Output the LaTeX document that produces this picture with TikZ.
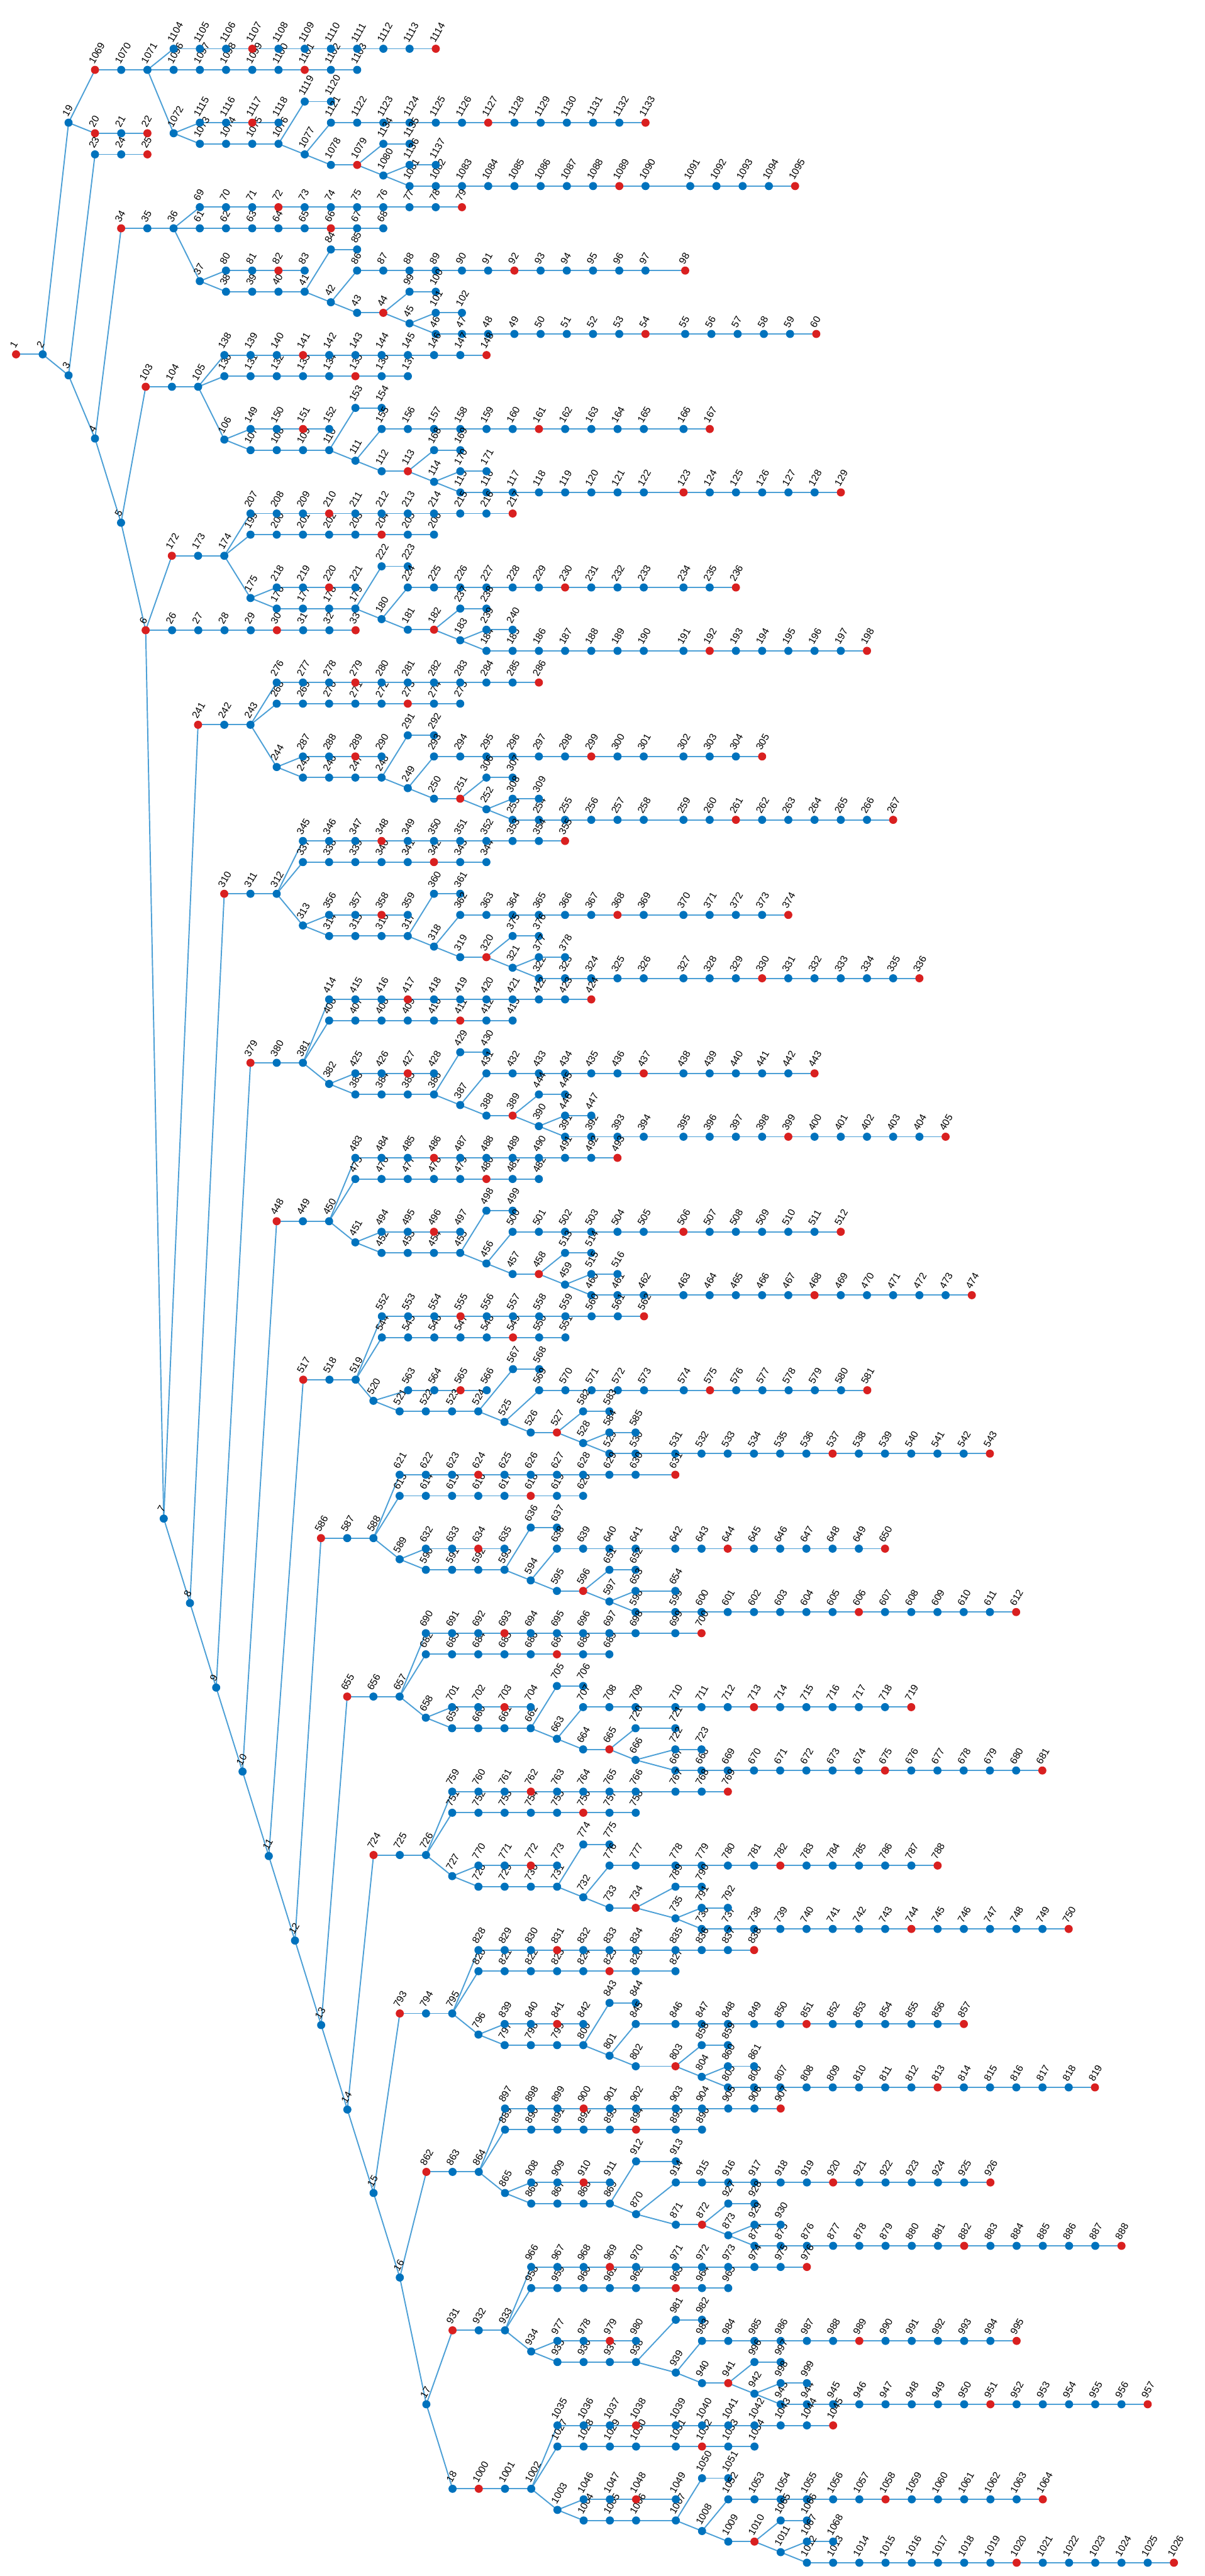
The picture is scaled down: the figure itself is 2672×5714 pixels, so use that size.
\documentclass[tikz,border=0pt]{standalone}
\usepackage{fontspec}
\setmainfont{Liberation Sans}
\definecolor{nblue}{RGB}{0,114,189}
\definecolor{nred}{RGB}{217,32,32}
\definecolor{eblue}{RGB}{77,160,214}
\pgfdeclarelayer{edges}
\pgfsetlayers{edges,main}
\tikzset{
  nd/.style={circle,draw=none,minimum size=18pt,inner sep=0pt},
  lbl/.style={font=\fontsize{22}{22}\selectfont,rotate=60,anchor=south west,inner sep=0pt},
  edge/.style={draw=eblue,line width=2.7pt}
}
\makeatletter
\def\redT{,0,10,20,26,32,38,45,48,58,64,}
\def\redS{,1,6,20,22,25,30,33,}
\def\troot{0}
\def\xg{30}
\newcommand\setcol[1]{%
  \ifnum\troot=0 \edef\tmpoff{#1}\let\tmpset\redS
  \else \edef\tmpoff{\the\numexpr#1-\troot\relax}\let\tmpset\redT\fi
  \edef\tmp{\noexpand\in@{,\tmpoff,}{\tmpset}}\tmp
  \ifin@\def\curcol{nred}\else\def\curcol{nblue}\fi}
\makeatother
\newcommand\NodeAt[3]{%
  \setcol{#1}%
  \pgfmathsetmacro\px{#2}%
  \pgfmathsetmacro\px{\px>1450?\px+\xg:\px}%
  \pgfmathsetmacro\py{155+23.43*(#3)}%
  \node[nd,fill=\curcol] (n#1) at (\px,\py) {};%
  \node[lbl] (l#1) at ([xshift=-1.5pt,yshift=12pt]n#1.center) {#1};%
}
\def\edgelist{}
\newcommand\Edge[2]{\xdef\edgelist{\unexpanded\expandafter{\edgelist}\noexpand\DrawE{#1}{#2}}}
\newcommand\DrawE[2]{\draw[edge] (n#1.center) -- (n#2.center);}
\newcommand\Chain[5]{%
  \edef\cs{\the\numexpr#1\relax}%
  \edef\cp{\the\numexpr#5\relax}%
  \foreach \i in {1,...,#2}{%
    \edef\nm{\the\numexpr\cs+\i-1\relax}%
    \edef\pv{\ifnum\i=1 \cp\else\the\numexpr\nm-1\relax\fi}%
    \NodeAt{\nm}{(#3)+58.15*(\i-1)}{#4}%
    \Edge{\pv}{\nm}%
  }%
}
\newcommand\Tmpl[8]{%
  \def\troot{#1}%
  \Chain{#1}{3}{#3}{#4}{#2}%
  \Chain{#1+3}{1}{#3+3*58.15+(#8)}{(#4)+(#7)}{#1+2}%
  \Chain{#1+4}{4}{#3+4*58.15+(#8)}{(#4)+(#7)+1}{#1+3}%
  \Chain{#1+8}{1}{#3+8*58.15+(#8)}{(#4)+(#7)+2}{#1+7}%
  \Chain{#1+9}{2}{#3+9*58.15+(#8)}{(#4)+(#7)+3}{#1+8}%
  \Chain{#1+11}{1}{#3+11*58.15+(#8)}{(#4)+(#7)+4}{#1+10}%
  \Chain{#1+12}{15}{#3+12*58.15+(#8)}{(#4)+(#7)+5}{#1+11}%
  \Chain{#1+27}{8}{#3+3*58.15}{(#4)+(#6)}{#1+2}%
  \Chain{#1+35}{11}{#3+3*58.15}{(#4)+(#5)}{#1+2}%
  \Chain{#1+46}{4}{#3+4*58.15}{(#4)+(#7)-1}{#1+3}%
  \Chain{#1+50}{2}{#3+8*58.15}{(#4)+(#7)-3}{#1+7}%
  \Chain{#1+52}{13}{#3+9*58.15}{(#4)+(#7)-1}{#1+8}%
  \Chain{#1+65}{2}{#3+11*58.15+(#8)}{(#4)+(#7)+1}{#1+10}%
  \Chain{#1+67}{2}{#3+12*58.15+(#8)}{(#4)+(#7)+3}{#1+11}%
}
\begin{document}
\begin{tikzpicture}[x=1pt,y=-1pt]
\useasboundingbox (0,0) rectangle (2672,5714);
\def\troot{0}
\NodeAt{1}{35.6}{26.93}
\NodeAt{2}{94.7}{26.93}
\NodeAt{3}{152.1}{28.92}
\NodeAt{4}{210.7}{34.9}
\NodeAt{5}{268.5}{42.87}
\NodeAt{6}{323.1}{53.05}
\NodeAt{7}{363.2}{137.15}
\NodeAt{8}{421.4}{145.15}
\NodeAt{9}{479.5}{153.15}
\NodeAt{10}{538}{161.1}
\NodeAt{11}{596.2}{169.1}
\NodeAt{12}{654.3}{177.1}
\NodeAt{13}{712.4}{185.1}
\NodeAt{14}{770.5}{193.1}
\NodeAt{15}{828.6}{201.0}
\NodeAt{16}{886.8}{209.0}
\NodeAt{17}{945.7}{221.0}
\NodeAt{18}{1003.8}{229.0}
\NodeAt{19}{152.1}{5}
\Edge{1}{2}\Edge{2}{3}\Edge{3}{4}\Edge{4}{5}\Edge{5}{6}\Edge{6}{7}
\Edge{7}{8}\Edge{8}{9}\Edge{9}{10}\Edge{10}{11}\Edge{11}{12}\Edge{12}{13}
\Edge{13}{14}\Edge{14}{15}\Edge{15}{16}\Edge{16}{17}\Edge{17}{18}\Edge{2}{19}
\Chain{20}{3}{210.7}{6}{19}
\Chain{23}{3}{210.7}{8}{3}
\Chain{26}{8}{381.7}{53.05}{6}
\def\xg{41}
\Tmpl{1069}{19}{210.7}{0}{-2}{0}{6}{0}
\def\xg{30}
\Tmpl{34}{4}{268.7}{15}{-2}{0}{5}{0}
\Tmpl{103}{5}{323.2}{30}{-3}{-1}{5}{0}
\Tmpl{172}{6}{381.2}{46}{-4}{-2}{4}{0}
\Tmpl{241}{7}{439.3}{62}{-4}{-2}{4}{0}
\Tmpl{310}{8}{497.4}{78}{-5}{-3}{3}{0}
\Tmpl{379}{9}{555.6}{94}{-6}{-4}{2}{0}
\Tmpl{448}{10}{613.7}{109}{-6}{-4}{2}{0}
\Tmpl{517}{11}{672.6}{124}{-6}{-4}{2}{-18.8}
\Tmpl{586}{12}{712}{139}{-6}{-4}{2}{0}
\Tmpl{655}{13}{770.1}{154}{-6}{-4}{2}{0}
\Tmpl{724}{14}{828.6}{169}{-6}{-4}{2}{0}
\Tmpl{793}{15}{886.8}{184}{-6}{-4}{2}{0}
\Tmpl{862}{16}{945.7}{199}{-6}{-4}{2}{0}
\Tmpl{931}{17}{1003.8}{214}{-6}{-4}{2}{0}
\Tmpl{1000}{18}{1062}{229}{-6}{-4}{2}{0}
\begin{pgfonlayer}{edges}
\edgelist
\end{pgfonlayer}
\end{tikzpicture}
\end{document}
